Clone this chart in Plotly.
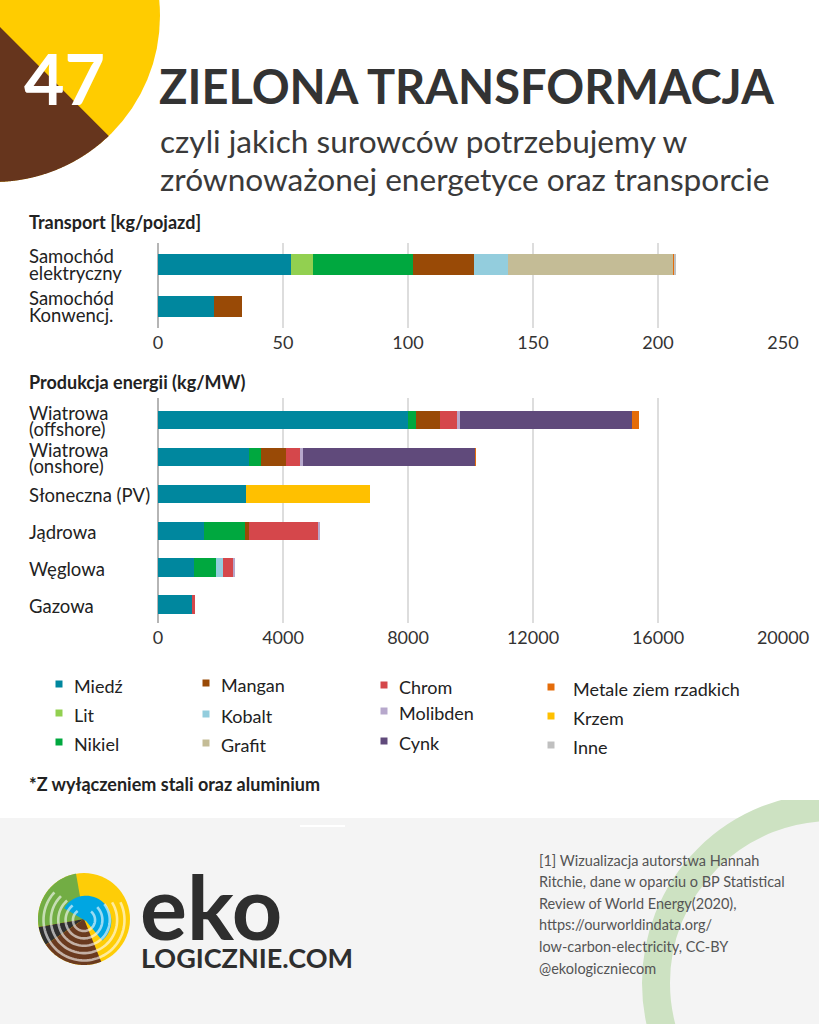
import numpy as np
import plotly.graph_objects as go

W, H = 819, 1024
FONT = "Lato"
DARK = "#333333"

# ---------------- data ----------------
materials = ["Miedź", "Lit", "Nikiel", "Mangan", "Kobalt", "Grafit",
             "Chrom", "Molibden", "Cynk", "Metale ziem rzadkich", "Krzem", "Inne"]
colors = ["#00879e", "#92d050", "#00a83f", "#994a06", "#93cddd", "#c4bc96",
          "#d5474b", "#b7a8cc", "#604a7b", "#e46c0a", "#ffc000", "#c0c0c0"]

transport_categories = ["Samochód elektryczny", "Samochód Konwencj."]
tr_miedz = [53.2, 22.3]
tr_lit = [8.9, 0]
tr_nikiel = [39.9, 0]
tr_mangan = [24.5, 11.2]
tr_kobalt = [13.3, 0]
tr_grafit = [66.3, 0]
tr_chrom = [0, 0]
tr_molibden = [0, 0]
tr_cynk = [0, 0]
tr_metale = [0.5, 0]
tr_krzem = [0, 0]
tr_inne = [0.3, 0]

energy_categories = ["Wiatrowa (offshore)", "Wiatrowa (onshore)", "Słoneczna (PV)",
                     "Jądrowa", "Węglowa", "Gazowa"]
en_miedz = [8000, 2900, 2822, 1473, 1150, 1100]
en_lit = [0, 0, 0, 0, 0, 0]
en_nikiel = [240, 404, 0, 1297, 721, 16]
en_mangan = [790, 780, 0, 148, 0, 0]
en_kobalt = [0, 0, 0, 0, 210, 0]
en_grafit = [0, 0, 0, 0, 0, 0]
en_chrom = [525, 470, 0, 2190, 308, 60]
en_molibden = [109, 99, 0, 70, 66, 0]
en_cynk = [5500, 5500, 0, 0, 0, 0]
en_metale = [239, 14, 0, 0, 0, 0]
en_krzem = [0, 0, 3955, 0, 0, 0]
en_inne = [0, 0, 0, 0, 0, 0]

transport_ticks = [0, 50, 100, 150, 200, 250]
energy_ticks = [0, 4000, 8000, 12000, 16000, 20000]

transport_series = [tr_miedz, tr_lit, tr_nikiel, tr_mangan, tr_kobalt, tr_grafit,
                    tr_chrom, tr_molibden, tr_cynk, tr_metale, tr_krzem, tr_inne]
energy_series = [en_miedz, en_lit, en_nikiel, en_mangan, en_kobalt, en_grafit,
                 en_chrom, en_molibden, en_cynk, en_metale, en_krzem, en_inne]


def px(x):
    return x / W


def py(y):
    return 1 - y / H


fig = go.Figure()
for name, col, tv, ev in zip(materials, colors, transport_series, energy_series):
    fig.add_trace(go.Bar(y=transport_categories, x=tv, orientation="h", name=name,
                         marker=dict(color=col, line=dict(width=0)), width=0.52,
                         xaxis="x", yaxis="y"))
    fig.add_trace(go.Bar(y=energy_categories, x=ev, orientation="h", name=name,
                         marker=dict(color=col, line=dict(width=0)), width=0.5,
                         xaxis="x2", yaxis="y2"))

axis_common = dict(showgrid=True, gridcolor="#dddddd", gridwidth=1.5,
                   zeroline=True, zerolinecolor="#b5b5b5", zerolinewidth=2,
                   showline=False, ticks="", automargin=False,
                   tickfont=dict(size=18, color=DARK, family=FONT), fixedrange=True)
yaxis_common = dict(showticklabels=False, showgrid=False, zeroline=False,
                    automargin=False, autorange="reversed", categoryorder="array",
                    fixedrange=True)
fig.update_layout(
    xaxis=dict(domain=[px(158), px(783)], range=[0, 250], tickvals=transport_ticks,
               ticktext=[str(v) for v in transport_ticks],
               anchor="y", ticklabelstandoff=2, **axis_common),
    yaxis=dict(domain=[py(328), py(243)], categoryarray=transport_categories,
               anchor="x", **yaxis_common),
    xaxis2=dict(domain=[px(158), px(783)], range=[0, 20000], tickvals=energy_ticks,
                ticktext=[str(v) for v in energy_ticks],
                anchor="y2", ticklabelstandoff=2, **axis_common),
    yaxis2=dict(domain=[py(623), py(398)], categoryarray=energy_categories,
                anchor="x2", **yaxis_common),
    barmode="stack", bargap=0.5, showlegend=False, autosize=False,
    width=W, height=H, margin=dict(l=0, r=0, t=0, b=0, pad=0, autoexpand=False),
    paper_bgcolor="white", plot_bgcolor="rgba(0,0,0,0)",
    font=dict(family=FONT, color=DARK),
)

shapes = []
annotations = []


def poly(pts):
    return "M " + " L ".join(f"{px(x):.5f},{py(y):.5f}" for x, y in pts) + " Z"


def open_path(pts):
    return "M " + " L ".join(f"{px(x):.5f},{py(y):.5f}" for x, y in pts)


def arc_pts(cx, cy, r, a0, a1, n=80):
    a = np.radians(np.linspace(a0, a1, n))
    return list(zip(cx + r * np.cos(a), cy - r * np.sin(a)))


def sector(cx, cy, r, a0, a1):
    return poly([(cx, cy)] + arc_pts(cx, cy, r, a0, a1))


# footer background
shapes.append(dict(type="rect", xref="paper", yref="paper", x0=0, x1=1,
                   y0=0, y1=py(818), fillcolor="#f4f4f4", line=dict(width=0), layer="below"))
# footer green ring (clipped at top by white band)
rcx, rcy, rr = 832, 983, 176
shapes.append(dict(type="circle", xref="paper", yref="paper", x0=px(rcx - rr), x1=px(rcx + rr),
                   y0=py(rcy + rr), y1=py(rcy - rr), line=dict(color="#cde2c2", width=28),
                   fillcolor="rgba(0,0,0,0)", layer="below"))
shapes.append(dict(type="rect", xref="paper", yref="paper", x0=-0.05, x1=1.05,
                   y0=py(800), y1=1.01, fillcolor="white", line=dict(width=0), layer="below"))
shapes.append(dict(type="line", xref="paper", yref="paper", x0=px(300), x1=px(345),
                   y0=py(826), y1=py(826), line=dict(color="white", width=2), layer="below"))

# top-left badge
ccx, ccy, cr = -6, 16, 166
shapes.append(dict(type="circle", xref="paper", yref="paper", x0=px(ccx - cr), x1=px(ccx + cr),
                   y0=py(ccy + cr), y1=py(ccy - cr), fillcolor="#ffcc00",
                   line=dict(width=0), layer="below"))
ang = np.linspace(0, 360, 1441)
brown = []
for a in sorted(ang, key=lambda a: (a - 90) % 360):
    x = ccx + cr * np.cos(np.radians(a))
    y = ccy - cr * np.sin(np.radians(a))
    if y > x + 27:
        brown.append((x, y))
shapes.append(dict(type="path", xref="paper", yref="paper", path=poly(brown),
                   fillcolor="#66351d", line=dict(width=0), layer="below"))

# logo
lx, ly, lr = 84, 919, 46
shapes.append(dict(type="circle", xref="paper", yref="paper", x0=px(lx - lr), x1=px(lx + lr),
                   y0=py(ly + lr), y1=py(ly - lr), fillcolor="#fecd07",
                   line=dict(width=0), layer="below"))
logo_parts = [
    (sector(lx, ly, lr, 100, 190), "#72ad44"),
    (sector(lx, ly, lr, 190, 214), "#2f2f2f"),
    (sector(lx, ly, lr, 214, 292), "#6a3a1f"),
    (sector(lx + 2, ly + 2, lr * 0.55, -50, 150), "#00a6e2"),
]
for p, c in logo_parts:
    shapes.append(dict(type="path", xref="paper", yref="paper", path=p, fillcolor=c,
                       line=dict(width=0), layer="below"))
for k, rad in enumerate([0.24, 0.4, 0.56, 0.72, 0.88]):
    shapes.append(dict(type="path", xref="paper", yref="paper",
                       path=open_path(arc_pts(lx, ly + 1, lr * rad, 125 + k * 3, 410 - k * 6, 70)),
                       line=dict(color="rgba(255,255,255,0.6)", width=2.6),
                       fillcolor="rgba(0,0,0,0)", layer="below"))


def text(x, y, s, size, color=DARK, xanchor="left", bold=False, family=FONT):
    annotations.append(dict(x=px(x), y=py(y), xref="paper", yref="paper",
                            text=f"<b>{s}</b>" if bold else s, showarrow=False,
                            xanchor=xanchor, yanchor="middle",
                            font=dict(size=size, color=color, family=family)))


text(64, 78, "47", 70, color="white", xanchor="center", bold=True)
text(157, 86, "ZIELONA TRANSFORMACJA", 47, bold=True)
text(158, 141, "czyli jakich surowców potrzebujemy w", 31.6, color="#3a3a3a")
text(158, 179, "zrównoważonej energetyce oraz transporcie", 31.6, color="#3a3a3a")
text(27, 222, "Transport [kg/pojazd]", 18, bold=True, color="#222")
text(27, 382, "Produkcja energii (kg/MW)", 18, bold=True, color="#222")
text(27, 784, "*Z wyłączeniem stali oraz aluminium", 18, bold=True, color="#222")

# category labels (left aligned), split on two lines where needed
for cat in transport_categories:
    parts = cat.split(" ")
    for j, part in enumerate(parts):
        annotations.append(dict(x=px(27), y=cat, xref="paper", yref="y", text=part,
                                showarrow=False, xanchor="left", yanchor="middle",
                                yshift=(8.5 if j == 0 else -8.5),
                                font=dict(size=18.5, color="#222", family=FONT)))
for cat in energy_categories:
    parts = cat.split(" ") if cat.startswith("Wiatrowa") else [cat]
    for j, part in enumerate(parts):
        ys = 0 if len(parts) == 1 else (8 if j == 0 else -8)
        annotations.append(dict(x=px(27), y=cat, xref="paper", yref="y2", text=part,
                                showarrow=False, xanchor="left", yanchor="middle",
                                yshift=ys - 1,
                                font=dict(size=18.5, color="#222", family=FONT)))

# legend
col_marker_x = [59, 206, 384, 551]
col_text_x = [72, 219, 397, 571]
col_rows_y = [[686, 715, 744], [685, 716, 745], [687, 713, 743], [689, 718, 747]]
for i, (name, col) in enumerate(zip(materials, colors)):
    c, r = i // 3, i % 3
    mx, my = col_marker_x[c], col_rows_y[c][r] - 2
    shapes.append(dict(type="rect", xref="paper", yref="paper", x0=px(mx - 3.5), x1=px(mx + 3.5),
                       y0=py(my + 3.5), y1=py(my - 3.5), fillcolor=col, line=dict(width=0)))
    text(col_text_x[c], col_rows_y[c][r], name, 18, color="#222")

# logo text
text(138, 906, "<b>eko</b>", 88, color="#2e2e2e")
text(139, 957, "<b>LOGICZNIE.COM</b>", 27, color="#2e2e2e")

footer_lines = ["[1] Wizualizacja autorstwa Hannah",
                "Ritchie, dane w oparciu o BP Statistical",
                "Review of World Energy(2020),",
                "https://ourworldindata.org/",
                "low-carbon-electricity, CC-BY",
                "@ekologiczniecom"]
for k, line in enumerate(footer_lines):
    text(537, 860 + k * 21.6, line, 14.5, color="#555555")

fig.update_layout(shapes=shapes, annotations=annotations)
fig.write_html("out.html", config={"responsive": False, "displayModeBar": False},
               post_script="document.body.style.margin='0';document.body.style.overflow='hidden';")
